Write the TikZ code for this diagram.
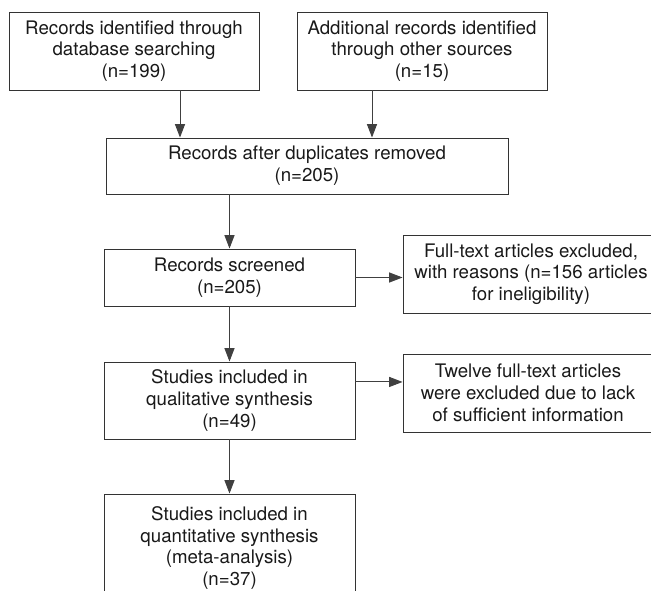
\documentclass[tikz,border=0pt]{standalone}
\usepackage{fontspec}
\setmainfont{TeX Gyre Heros}
\usetikzlibrary{arrows.meta,positioning,calc}

\begin{document}
\begin{tikzpicture}[
            x=0.75pt, y=-0.75pt,
            font=\fontsize{14}{16.3}\selectfont,
            box/.style={rectangle, draw=black!80, line width=0.7pt, align=center, inner sep=0pt, text=black!90},
            arrow/.style={draw=black!75, line width=0.7pt, -{Triangle[length=10pt,width=7.5pt]}}
        ]
        \useasboundingbox (0,0) rectangle (651,591);
        \clip (0,0) rectangle (651,591);

        % Nodes
        \node (db) [box, minimum width=187.5pt, minimum height=58.5pt] at (134,51) {Records identified through\\database searching\\(n=199)};
        \node (other) [box, minimum width=187.5pt, minimum height=58.5pt] at (422,51) {Additional records identified\\through other sources\\(n=15)};

        \node (dupl) [box, minimum width=301.5pt, minimum height=42pt] at (307,166) {Records after duplicates removed\\(n=205)};
        \node (screened) [box, minimum width=188.25pt, minimum height=42.75pt] at (229.5,277.5) {Records screened\\(n=205)};
        \node (excl1) [box, minimum width=192pt, minimum height=58.5pt] at (531,274) {Full-text articles excluded,\\with reasons (n=156 articles\\for ineligibility)};

        \node (qual) [box, minimum width=188.25pt, minimum height=57.75pt] at (229.5,400.5) {Studies included in\\qualitative synthesis\\(n=49)};
        \node (excl2) [box, minimum width=187.5pt, minimum height=58.5pt] at (528,393) {Twelve full-text articles\\were excluded due to lack\\of sufficient information};

        \node (quant) [box, minimum width=188.25pt, minimum height=81pt] at (229.5,548) {Studies included in\\quantitative synthesis\\(meta-analysis)\\(n=37)};

        % Links
        \draw [arrow] ([xshift=34.5pt]db.south) -- ([xshift=34.5pt]db.south |- dupl.north);
        \draw [arrow] ([xshift=-37.5pt]other.south) -- ([xshift=-37.5pt]other.south |- dupl.north);
        \draw [arrow] (screened.north |- dupl.south) -- (screened.north);
        \draw [arrow] (screened.east) -- (screened.east -| excl1.west);
        \draw [arrow] (screened.south) -- (qual.north);
        \draw [arrow] ([yshift=13.9pt]qual.east) -- ([yshift=13.9pt]qual.east -| excl2.west);
        \draw [arrow] (qual.south) -- (quant.north);

    \end{tikzpicture}
\end{document}
